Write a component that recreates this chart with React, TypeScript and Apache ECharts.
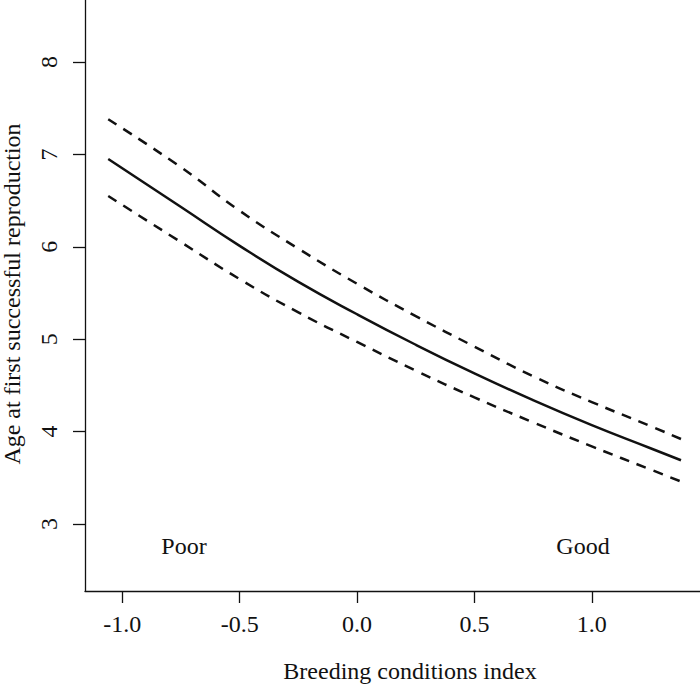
import React, { useEffect, useRef } from "react";
import * as echarts from "echarts";

const xValues = [-1.06, -0.75, -0.5, -0.25, 0, 0.25, 0.5, 0.75, 1.0, 1.25, 1.38];
const fitted = [6.95, 6.43, 6.01, 5.62, 5.27, 4.94, 4.63, 4.34, 4.07, 3.82, 3.69];
const upperCI = [7.38, 6.86, 6.39, 5.98, 5.6, 5.25, 4.92, 4.6, 4.32, 4.06, 3.92];
const lowerCI = [6.55, 6.05, 5.65, 5.29, 4.97, 4.66, 4.37, 4.1, 3.84, 3.59, 3.46];
const xTicks = [-1.0, -0.5, 0.0, 0.5, 1.0];
const yTicks = [3, 4, 5, 6, 7, 8];

const FONT = "Liberation Serif";
const INK = "#111";

export default function App() {
  const ref = useRef<HTMLDivElement>(null);
  useEffect(() => {
    if (!ref.current) return;
    const chart = echarts.init(ref.current, null, { renderer: "svg" });
    const pts = (ys: number[]) => xValues.map((x, i) => [x, ys[i]]);
    const txt = (text: string, x: number, y: number, rot = 0) => ({
      type: "text",
      x,
      y,
      rotation: rot,
      style: {
        text,
        fontFamily: FONT,
        fontSize: 24,
        fill: INK,
        textAlign: "center",
        textVerticalAlign: "middle",
      },
    });
    chart.setOption({
      animation: false,
      backgroundColor: "#fff",
      textStyle: { fontFamily: FONT },
      grid: { left: 85, right: 0, top: 0, bottom: 93, containLabel: false },
      xAxis: {
        type: "value",
        min: -1.159,
        max: 1.461,
        splitLine: { show: false },
        axisLine: { show: true, onZero: false, lineStyle: { color: INK, width: 1.3 } },
        axisTick: { show: true, length: 12, customValues: xTicks, lineStyle: { color: INK, width: 1.3 } },
        axisLabel: {
          customValues: xTicks,
          margin: 21,
          fontFamily: FONT,
          fontSize: 24,
          color: INK,
          formatter: (v: number) => v.toFixed(1),
        },
      },
      yAxis: {
        type: "value",
        min: 2.275,
        max: 8.671,
        splitLine: { show: false },
        axisLine: { show: true, onZero: false, lineStyle: { color: INK, width: 1.3 } },
        axisTick: { show: true, length: 12, customValues: yTicks, lineStyle: { color: INK, width: 1.3 } },
        axisLabel: {
          customValues: yTicks,
          rotate: 90,
          margin: 24,
          fontFamily: FONT,
          fontSize: 24,
          color: INK,
          formatter: (v: number) => String(v),
        },
      },
      series: [
        {
          type: "line",
          data: pts(fitted),
          smooth: true,
          showSymbol: false,
          lineStyle: { color: INK, width: 2.5 },
        },
        {
          type: "line",
          data: pts(upperCI),
          smooth: true,
          showSymbol: false,
          lineStyle: { color: INK, width: 2.5, type: [10, 8] },
        },
        {
          type: "line",
          data: pts(lowerCI),
          smooth: true,
          showSymbol: false,
          lineStyle: { color: INK, width: 2.5, type: [10, 8] },
        },
      ],
      graphic: [
        txt("Breeding conditions index", 410, 671),
        txt("Age at first successful reproduction", 12, 294, Math.PI / 2),
        txt("Poor", 184, 546),
        txt("Good", 583, 546),
      ],
    });
    return () => chart.dispose();
  }, []);
  return (
    <div
      ref={ref}
      style={{ position: "fixed", left: 0, top: 0, width: 700, height: 684 }}
    />
  );
}
